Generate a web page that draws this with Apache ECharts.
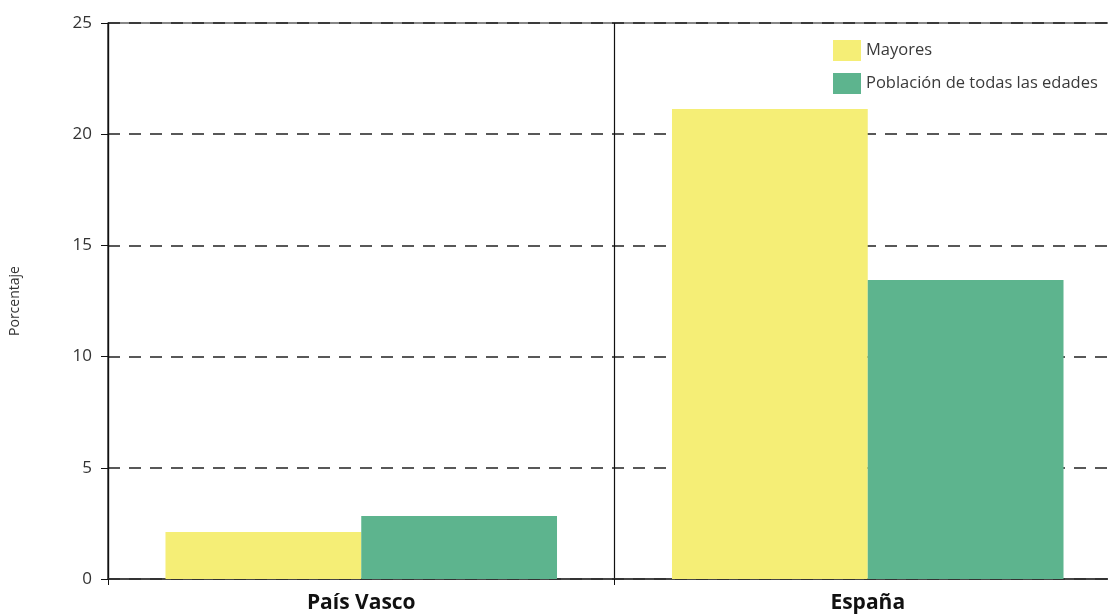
<!DOCTYPE html>
<html><head><meta charset="utf-8">
<script src="https://cdn.jsdelivr.net/npm/echarts@6/dist/echarts.min.js"></script>
<style>html,body{margin:0;padding:0;background:#fff;overflow:hidden;width:1108px;height:614px}#c{width:1121px;height:614px}</style>
</head><body><div id="c"></div>
<script>
const categories = ['País Vasco', 'España'];
const seriesNames = ['Mayores', 'Población de todas las edades'];
const mayores = [2.11, 21.13];
const poblacion = [2.83, 13.44];
const yTicks = [0, 5, 10, 15, 20, 25];

const chart = echarts.init(document.getElementById('c'));
const font = "'Open Sans', sans-serif";
chart.setOption({
  animation: false,
  textStyle: {fontFamily: font},
  grid: {left: 107, right: 0, top: 23, bottom: 35, show: true, borderColor: '#111', borderWidth: 1.2},
  legend: {
    orient: 'vertical', left: 828, top: 35, itemWidth: 28, itemHeight: 21, itemGap: 12,
    icon: 'rect',
    textStyle: {fontFamily: font, fontSize: 16.5, color: '#3a3a3a', padding: [0,0,0,0]},
    data: seriesNames
  },
  xAxis: {
    type: 'category', data: categories,
    axisLine: {lineStyle: {color: '#333', width: 1.5}},
    axisTick: {show: true, length: 6, alignWithLabel: false, lineStyle: {color: '#111'}},
    axisLabel: {fontFamily: font, fontWeight: 'bold', fontSize: 21, color: '#111', margin: 14},
    splitLine: {show: true, lineStyle: {color: '#111', width: 1.2}}
  },
  yAxis: {
    type: 'value', min: yTicks[0], max: yTicks[yTicks.length-1], interval: 5,
    name: 'Porcentaje', nameLocation: 'middle', nameGap: 86, nameRotate: 90,
    nameTextStyle: {fontFamily: font, fontSize: 14, color: '#333'},
    axisLine: {show: true, lineStyle: {color: '#111', width: 1.2}},
    axisTick: {show: true, length: 7, lineStyle: {color: '#111'}},
    axisLabel: {fontFamily: font, fontSize: 17, color: '#333', margin: 16},
    splitLine: {show: true, lineStyle: {color: '#222', width: 1.5, type: [12, 9]}}
  },
  series: [
    {name: seriesNames[0], type: 'bar', data: mayores, barGap: '0%', barCategoryGap: '22.7%', itemStyle: {color: '#f5ee76'}},
    {name: seriesNames[1], type: 'bar', data: poblacion, barGap: '0%', barCategoryGap: '22.7%', itemStyle: {color: '#5db48e'}}
  ]
});
</script></body></html>
